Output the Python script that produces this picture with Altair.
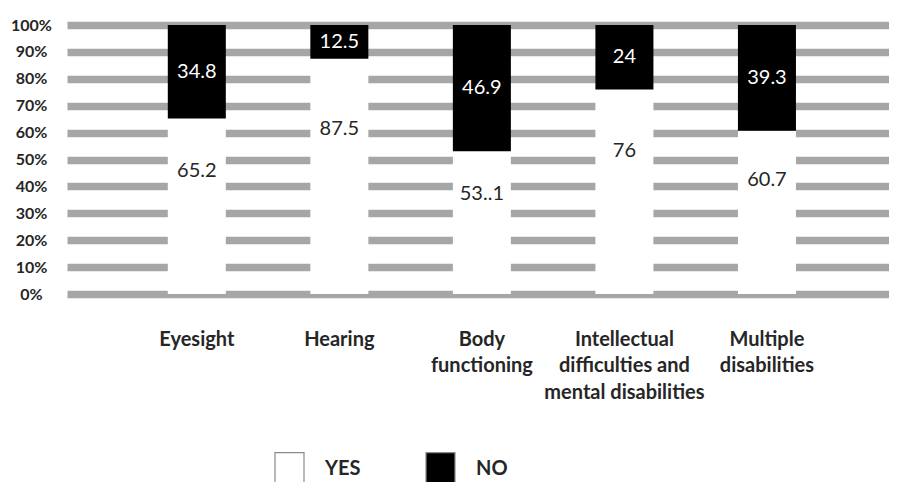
import altair as alt
import pandas as pd

# ---- data ----
category_lines = [
    "Eyesight",
    "Hearing",
    "Body|functioning",
    "Intellectual|difficulties and|mental disabilities",
    "Multiple|disabilities",
]
yes_values = [65.2, 87.5, 53.1, 76, 60.7]
no_values = [34.8, 12.5, 46.9, 24, 39.3]
yes_labels = ["65.2", "87.5", "53..1", "76", "60.7"]
no_labels = ["34.8", "12.5", "46.9", "24", "39.3"]
answers = ["YES", "NO"]
answer_colors = ["white", "black"]
y_ticks = [0, 10, 20, 30, 40, 50, 60, 70, 80, 90, 100]

rows = []
for cat, yv, nv, yl, nl in zip(category_lines, yes_values, no_values, yes_labels, no_labels):
    rows.append(dict(cat=cat, answer="YES", value=yv, base=0, ord=0, label=yl))
    rows.append(dict(cat=cat, answer="NO", value=nv, base=yv, ord=1, label=nl))
df = pd.DataFrame(rows)

FONT = "Lato"
TXT = "#262626"

y_scale = alt.Scale(domain=[0, 100], nice=False)
x_scale = alt.Scale(paddingInner=0.593, paddingOuter=0.68, align=0.52)

x_axis = alt.Axis(
    labelExpr="split(datum.label, '|')",
    labelAngle=0,
    labelFont=FONT,
    labelFontSize=20,
    labelFontWeight="bold",
    labelColor=TXT,
    labelLineHeight=26.5,
    labelPadding=35,
    labelLimit=0,
    domain=False,
    ticks=False,
    tickSize=0,
    grid=False,
)
y_axis = alt.Axis(
    values=y_ticks,
    labelExpr="datum.value + '%'",
    labelFont=FONT,
    labelFontSize=16,
    labelFontWeight="bold",
    labelColor=TXT,
    labelAlign="center",
    labelBaseline="middle",
    labelPadding=36,
    labelOverlap=False,
    domain=False,
    ticks=False,
    tickSize=0,
    grid=True,
    gridColor="#a6a6a6",
    gridWidth=7.5,
)

base = alt.Chart(df).transform_calculate(
    hi="datum.base + datum.value",
    ty="datum.answer == 'YES' ? datum.value * 0.7 : datum.base + datum.value / 2",
)

bars = base.mark_bar(strokeWidth=0).encode(
    x=alt.X("cat:N", sort=category_lines, title=None, scale=x_scale, axis=x_axis),
    y=alt.Y("base:Q", scale=y_scale, title=None, axis=y_axis),
    y2="hi:Q",
    color=alt.Color(
        "answer:N",
        scale=alt.Scale(domain=answers, range=answer_colors),
        sort=answers,
        title=None,
        legend=alt.Legend(
            orient="none",
            direction="horizontal",
            legendX=207,
            legendY=428,
            symbolType="M-1,-1.1H1V1.1H-1Z",
            symbolSize=841,
            symbolStrokeColor="#8a8a8a",
            symbolStrokeWidth=1.2,
            symbolOpacity=1,
            labelFont=FONT,
            labelFontSize=20,
            labelFontWeight="bold",
            labelColor=TXT,
            labelOffset=20,
            columnPadding=62,
            padding=0,
        ),
    ),
)

texts = base.mark_text(font=FONT, fontSize=20, baseline="middle", align="center").encode(
    x=alt.X("cat:N", sort=category_lines, title=None, scale=x_scale, axis=x_axis),
    y=alt.Y("ty:Q", scale=y_scale, title=None, axis=y_axis),
    text="label:N",
    color=alt.condition(alt.datum.answer == "NO", alt.value("white"), alt.value(TXT)),
)

chart = (
    alt.layer(bars, texts)
    .properties(
        width=822,
        height=269,
        padding={"left": 59, "top": 17, "right": 0, "bottom": 188},
        autosize=alt.AutoSizeParams(type="none"),
        background="white",
    )
    .configure_view(stroke=None)
)

chart.save("out.html", embed_options={"renderer": "svg", "actions": False})
